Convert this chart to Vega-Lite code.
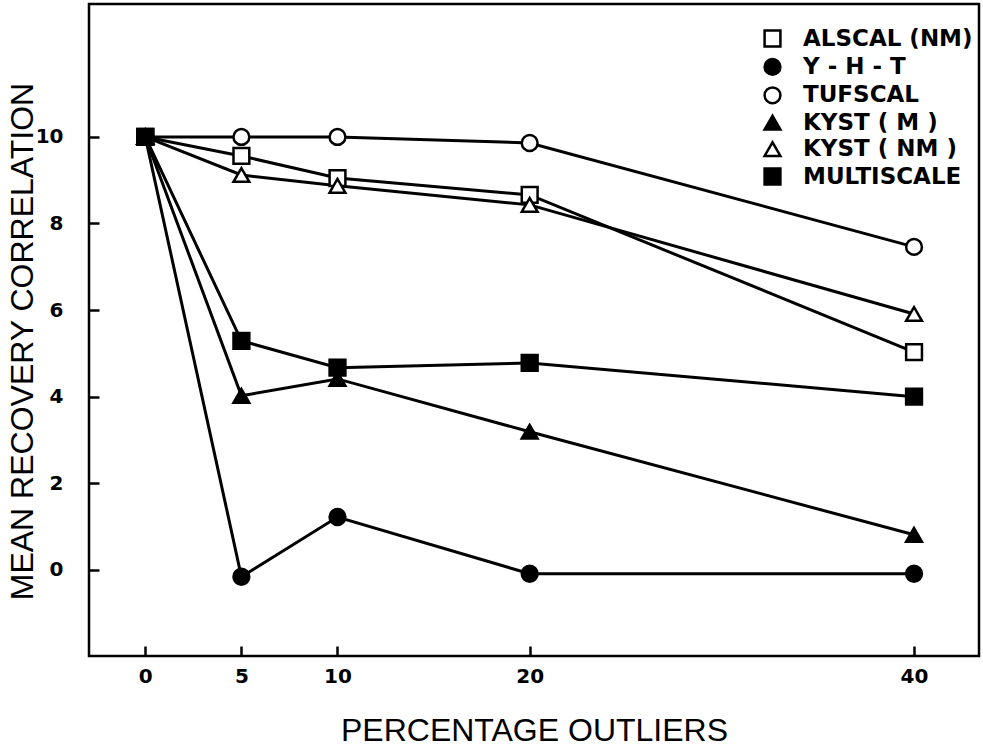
{
  "$schema": "https://vega.github.io/schema/vega-lite/v6.json",
  "autosize": "none",
  "width": 890,
  "height": 652,
  "padding": {"left": 89, "top": 4, "right": 4, "bottom": 91},
  "background": "white",
  "config": {
    "view": {"stroke": "black", "strokeWidth": 2.5},
    "font": "Liberation Sans"
  },
  "data": {
    "values": [
      {"series": "ALSCAL (NM)", "pct": 0, "r": 10.0},
      {"series": "ALSCAL (NM)", "pct": 5, "r": 9.56},
      {"series": "ALSCAL (NM)", "pct": 10, "r": 9.05},
      {"series": "ALSCAL (NM)", "pct": 20, "r": 8.66},
      {"series": "ALSCAL (NM)", "pct": 40, "r": 5.03},
      {"series": "Y - H - T", "pct": 0, "r": 10.0},
      {"series": "Y - H - T", "pct": 5, "r": -0.16},
      {"series": "Y - H - T", "pct": 10, "r": 1.22},
      {"series": "Y - H - T", "pct": 20, "r": -0.09},
      {"series": "Y - H - T", "pct": 40, "r": -0.09},
      {"series": "TUFSCAL", "pct": 0, "r": 10.0},
      {"series": "TUFSCAL", "pct": 5, "r": 10.0},
      {"series": "TUFSCAL", "pct": 10, "r": 10.0},
      {"series": "TUFSCAL", "pct": 20, "r": 9.86},
      {"series": "TUFSCAL", "pct": 40, "r": 7.46},
      {"series": "KYST ( M )", "pct": 0, "r": 10.0},
      {"series": "KYST ( M )", "pct": 5, "r": 4.02},
      {"series": "KYST ( M )", "pct": 10, "r": 4.41},
      {"series": "KYST ( M )", "pct": 20, "r": 3.19},
      {"series": "KYST ( M )", "pct": 40, "r": 0.81},
      {"series": "KYST ( NM )", "pct": 0, "r": 10.0},
      {"series": "KYST ( NM )", "pct": 5, "r": 9.12},
      {"series": "KYST ( NM )", "pct": 10, "r": 8.87},
      {"series": "KYST ( NM )", "pct": 20, "r": 8.43},
      {"series": "KYST ( NM )", "pct": 40, "r": 5.91},
      {"series": "MULTISCALE", "pct": 0, "r": 10.0},
      {"series": "MULTISCALE", "pct": 5, "r": 5.29},
      {"series": "MULTISCALE", "pct": 10, "r": 4.67},
      {"series": "MULTISCALE", "pct": 20, "r": 4.78},
      {"series": "MULTISCALE", "pct": 40, "r": 4.0}
    ]
  },
  "encoding": {
    "x": {
      "field": "pct", "type": "quantitative",
      "scale": {"domain": [-2.93, 43.38], "nice": false, "zero": false},
      "axis": {
        "values": [0, 5, 10, 20, 40],
        "title": "PERCENTAGE OUTLIERS",
        "titleFont": "Liberation Sans", "titleFontSize": 32, "titleFontWeight": "normal", "titleColor": "black",
        "titlePadding": 29,
        "labelFont": "DejaVu Sans", "labelFontSize": 20, "labelFontWeight": "bold", "labelColor": "black",
        "labelPadding": 20,
        "domain": false, "grid": false,
        "tickSize": -10, "tickWidth": 2.5, "tickColor": "black"
      }
    },
    "y": {
      "field": "r", "type": "quantitative",
      "scale": {"domain": [-1.99, 13.07], "nice": false, "zero": false},
      "axis": {
        "values": [0, 2, 4, 6, 8, 10],
        "title": "MEAN RECOVERY CORRELATION",
        "titleFont": "Liberation Sans", "titleFontSize": 32, "titleFontWeight": "normal", "titleColor": "black",
        "titlePadding": -4,
        "titleY": 337,
        "labelFont": "DejaVu Sans", "labelFontSize": 20, "labelFontWeight": "bold", "labelColor": "black",
        "labelPadding": 36,
        "domain": false, "grid": false,
        "tickSize": -10, "tickWidth": 2.5, "tickColor": "black"
      }
    }
  },
  "layer": [
    {
      "mark": {"type": "line", "color": "black", "strokeWidth": 3},
      "encoding": {"detail": {"field": "series"}}
    },
    {
      "mark": {"type": "point", "stroke": "black", "strokeWidth": 2.5, "opacity": 1, "filled": false},
      "encoding": {
        "shape": {
          "field": "series", "type": "nominal",
          "scale": {
            "domain": ["ALSCAL (NM)", "Y - H - T", "TUFSCAL", "KYST ( M )", "KYST ( NM )", "MULTISCALE"],
            "range": ["square", "circle", "circle", "triangle-up", "triangle-up", "square"]
          },
          "legend": {
            "title": null, "orient": "none", "legendX": 672, "legendY": 23,
            "labelFont": "DejaVu Sans", "labelFontSize": 23, "labelFontWeight": "bold", "labelColor": "black",
            "labelLimit": 400,
            "rowPadding": 1.4, "labelOffset": 19, "symbolStrokeColor": "black", "symbolStrokeWidth": 2.5
          }
        },
        "fill": {
          "field": "series", "type": "nominal",
          "scale": {
            "domain": ["ALSCAL (NM)", "Y - H - T", "TUFSCAL", "KYST ( M )", "KYST ( NM )", "MULTISCALE"],
            "range": ["white", "black", "white", "black", "white", "black"]
          }
        },
        "size": {
          "field": "series", "type": "nominal",
          "scale": {
            "domain": ["ALSCAL (NM)", "Y - H - T", "TUFSCAL", "KYST ( M )", "KYST ( NM )", "MULTISCALE"],
            "range": [250, 250, 130, 250, 230, 280]
          }
        }
      }
    }
  ]
}
